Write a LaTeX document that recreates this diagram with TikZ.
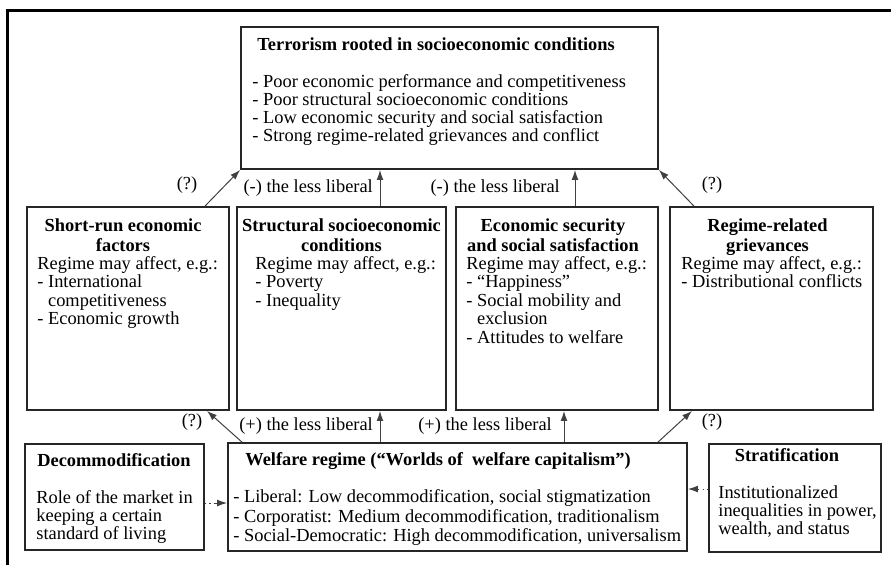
\documentclass[tikz,border=0pt]{standalone}
\usepackage{fontspec}
\setmainfont{Liberation Serif}
\usetikzlibrary{arrows.meta}

\begin{document}
\begin{tikzpicture}[x=0.5pt, y=-0.5pt,
		box/.style={draw=black!85, line width=0.9pt, inner sep=0pt},
		mid/.style={box, minimum width=101pt, minimum height=101.5pt},
		hd/.style={font=\fontsize{9.2}{10}\selectfont\bfseries, align=center, inner sep=0pt, anchor=north},
		txt/.style={font=\fontsize{9.2}{9.25}\selectfont, align=left, inner sep=0pt, anchor=north west},
		lbl/.style={font=\fontsize{9.2}{9.25}\selectfont},
		conn/.style={-{Latex[length=5pt,width=3.4pt]}, line width=0.5pt, every edge/.style={draw=black!75}},
		aux/.style={conn, draw=black!75, dash pattern=on 0.6pt off 1.6pt on 0.6pt off 1.6pt on 2.4pt off 1.2pt}]
		\useasboundingbox (0,0) rectangle (891,564);
		\draw[line width=1.5pt] (7,620) |- (940,10);

		\node[box, minimum width=208.5pt, minimum height=71pt] (top) at (449.5,98) {};
		\node[mid] (s1) at (128,308.5) {};
		\node[mid, minimum width=104.5pt] (s2) at (341.5,308.5) {};
		\node[mid] (s3) at (557,308.5) {};
		\node[mid, minimum width=101.5pt] (s4) at (771.5,308.5) {};
		\node[box, minimum width=229.5pt, minimum height=54pt] (wr) at (457.5,497) {};
		\node[box, minimum width=89.5pt, minimum height=53pt] (dc) at (114.5,497) {};
		\node[box, minimum width=86pt, minimum height=54pt] (st) at (795,498) {};

		% texts in the boxes
		\node[hd, anchor=north west] (top-h) at (257,37) {Terrorism rooted in socioeconomic conditions};
		\node[txt, font=\fontsize{9.2}{9}\selectfont] (top-t) at (252,74)
		{- Poor economic performance and competitiveness\\- Poor structural socioeconomic conditions\\
			- Low economic security and social satisfaction\\- Strong regime-related grievances and conflict};
		\node[hd] (s1-h) at (123,218) {Short-run economic\\factors};
		\node[txt] (s1-t) at (37,256) {Regime may affect, e.g.:\\- International\\\phantom{- }competitiveness\\- Economic growth};
		\node[hd] (s2-h) at (341.5,218) {Structural socioeconomic\\conditions};
		\node[txt] (s2-t) at (255,256) {Regime may affect, e.g.:\\- Poverty\\- Inequality};
		\node[hd] (s3-h) at (553,218) {Economic security\\and social satisfaction};
		\node[txt] (s3-t) at (466,256) {Regime may affect, e.g.:\\- “Happiness”\\- Social mobility and\\\phantom{- }exclusion\\- Attitudes to welfare};
		\node[hd] (s4-h) at (767.5,218) {Regime-related\\grievances};
		\node[txt] (s4-t) at (681,256) {Regime may affect, e.g.:\\- Distributional conflicts};
		\node[hd, anchor=north west] (wr-h) at (245,452) {Welfare regime (“Worlds of\ \ welfare capitalism”)};
		\node[txt, font=\fontsize{9.2}{9.9}\selectfont] (wr-t) at (233,489)
		{- Liberal: Low decommodification, social stigmatization\\- Corporatist: Medium decommodification, traditionalism\\
			- Social-Democratic: High decommodification, universalism};
		\node[hd] (dc-h) at (114,453) {Decommodification};
		\node[txt, font=\fontsize{9.2}{9}\selectfont] (dc-t) at (36,490) {Role of the market in\\keeping a certain\\standard of living};
		\node[hd] (st-h) at (787,448) {Stratification};
		\node[txt, font=\fontsize{9.2}{9}\selectfont] (st-t) at (718,485) {Institutionalized\\inequalities in power,\\wealth, and status};

		% connectors
		\path[conn]
		([xshift=38.5pt]s1.north) edge (top.south west)
		([xshift=19.25pt]s2.north) edge node[lbl, left] (l1) {(-) the less liberal} ([xshift=19.25pt]s2.north |- top.south)
		([xshift=9pt]s3.north) edge node[lbl, left=4pt] (l2) {(-) the less liberal} ([xshift=9pt]s3.north |- top.south)
		([xshift=-38.75pt]s4.north) edge (top.south east)
		([xshift=-107.75pt]wr.north) edge ([xshift=39.5pt]s1.south)
		([xshift=-38.75pt]wr.north) edge node[lbl, left] (l3) {(+) the less liberal} ([xshift=-38.75pt]wr.north |- s2.south)
		([xshift=53.25pt]wr.north) edge node[lbl, left=2.5pt] (l4) {(+) the less liberal} ([xshift=53.25pt]wr.north |- s3.south)
		([xshift=100.25pt]wr.north) edge ([xshift=-39.75pt]s4.south)
		;
		\node[lbl] (q1) at (187,185) {(?)};
		\node[lbl] (q2) at (712,185) {(?)};
		\node[lbl] (q3) at (192,422) {(?)};
		\node[lbl] (q4) at (712,422) {(?)};

		\draw[aux] ([yshift=-3pt]dc.east) -- ([yshift=-3pt]dc.east -| wr.west);
		\draw[aux] ([yshift=4.5pt]st.west) -- ([yshift=4.5pt]st.west -| wr.east);
\end{tikzpicture}
\end{document}
